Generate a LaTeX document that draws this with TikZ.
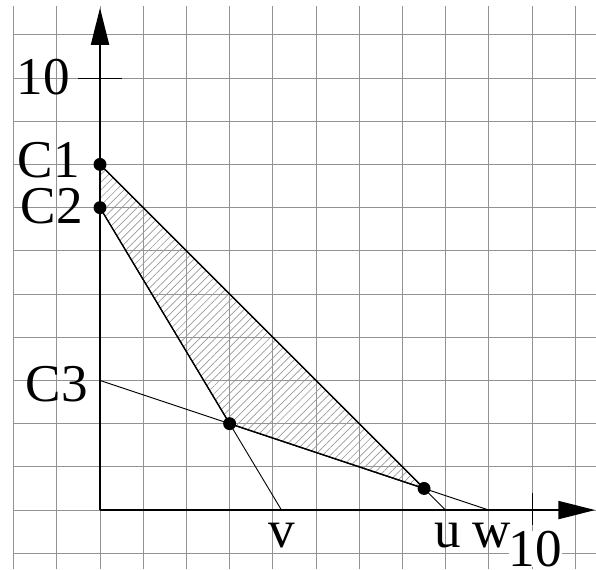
\documentclass[tikz,border=0pt]{standalone}
\usepackage{fontspec}
\setmainfont{Liberation Serif}
\usepackage{tikz}
\usetikzlibrary{arrows.meta,patterns.meta}

\begin{document}
\begin{tikzpicture}[every node/.style={font=\fontsize{35}{40}\selectfont, inner sep=0pt},
	>={Triangle[length=8.5mm, width=4.2mm]},
	dot/.style={circle, fill=black, inner sep=0pt, minimum size=3mm}]
	\useasboundingbox (-2.315,-1.366) rectangle (11.48,11.806);
	\draw[gray!85, line width=0.5pt] (-2,-1.366) grid (11.48,11.67);
	% points of the region
	\coordinate (O) at (0,0);
	\coordinate (C1) at (0,8);
	\coordinate (C2) at (0,7);
	\coordinate (C3) at (0,3);
	\coordinate (P) at (3,2);
	\coordinate (Q) at (7.5,0.5);
	\coordinate (u) at (8,0);
	\coordinate (v) at (4.2,0);
	\coordinate (w) at (9,0);
	\coordinate (xend) at (11.46,0);
	\coordinate (yend) at (0,11.62);
	\fill[pattern={Lines[angle=45, distance=3.6pt, line width=0.45pt]}, pattern color=gray!80] (C1) -- (C2) -- (P) -- (Q) -- cycle;
	\draw[line width=0.9pt] (C1) -- (C2) -- (P) -- (Q) -- cycle;
	\draw[line width=0.6pt] (C1) -- (u);
	\draw[line width=0.6pt] (C2) -- (v);
	\draw[line width=0.6pt] (C3) -- (w);
	% axes
	\draw[->, line width=0.9pt] (O) -- (yend);
	\draw[->, line width=0.9pt] (O) -- (xend);
	\draw[line width=0.6pt] (-0.5,10) -- (0.5,10);
	\draw[line width=0.6pt] (10,0.4) -- (10,-0.35);
	\foreach \p in {C1,C2,P,Q}
		\node[dot] (d\p) at (\p) {};
	\node[anchor=east] (ly) at (-0.69,10.03) {10};
	\node[anchor=east] (lC1) at (-0.46,8.1) {C1};
	\node[anchor=east] (lC2) at (-0.39,7.04) {C2};
	\node[anchor=east] (lC3) at (-0.28,2.92) {C3};
	\node (lv) at (4.2,-0.58) {v};
	\node (lu) at (8.06,-0.58) {u};
	\node (lw) at (9.07,-0.58) {w};
	\node[fill=white] (lx) at (10.07,-0.9) {10};
\end{tikzpicture}
\end{document}
